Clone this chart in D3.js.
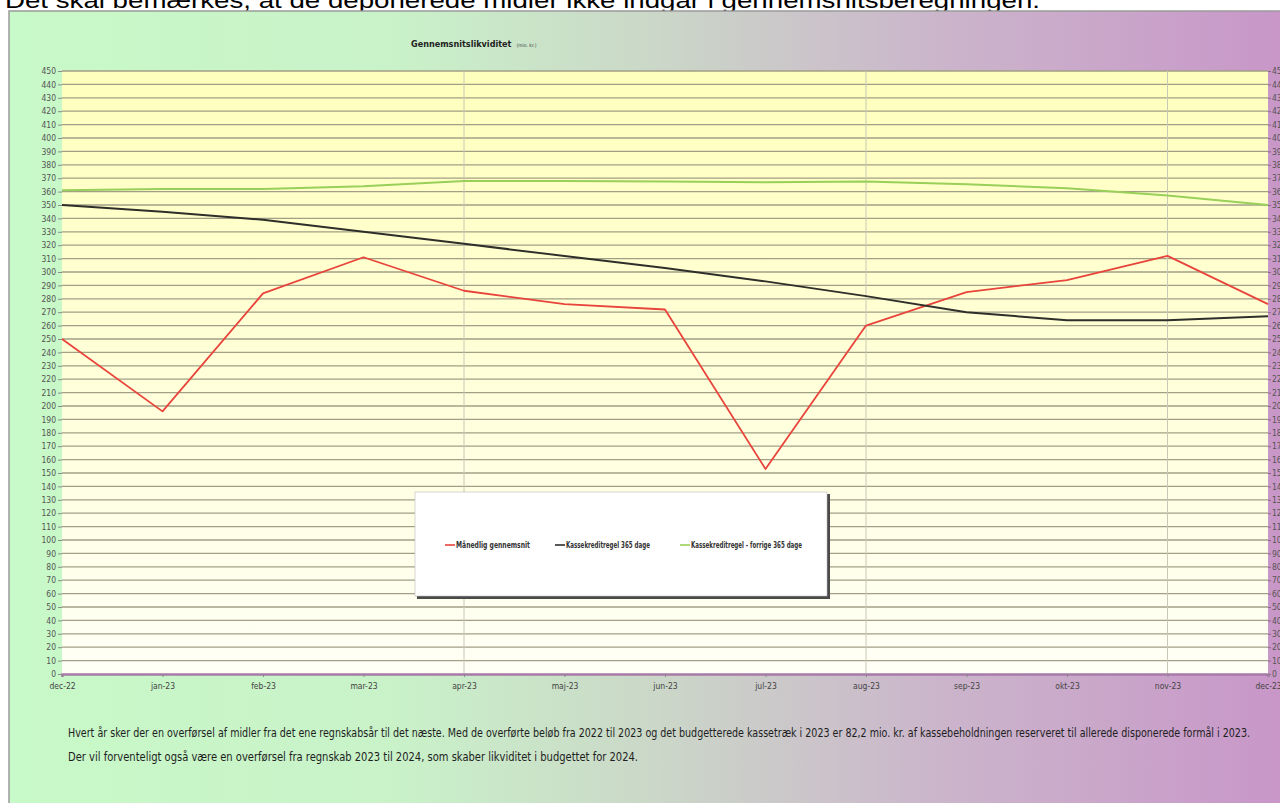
<!DOCTYPE html>
<html>
<head>
<meta charset="utf-8">
<script src="https://cdn.jsdelivr.net/npm/d3@7"></script>
<style>
  html, body { margin: 0; padding: 0; background: #fff; overflow: hidden; }
  svg { display: block; }
  text { font-family: "Liberation Sans Narrow", "Arial Narrow", "DejaVu Sans Condensed", sans-serif; }
</style>
</head>
<body>
<script>
const W = 1280, H = 803
const margin = {top: 71, left: 62, bottom: 129, right: 12}

// data (mio. kr.)
const months = ['dec-22','jan-23','feb-23','mar-23','apr-23','maj-23','jun-23','jul-23','aug-23','sep-23','okt-23','nov-23','dec-23']
const maanedlig = [250, 196, 284, 311, 286, 276, 272, 153, 260, 285, 294, 312, 276]
const kasse365 = [350, 345, 339, 330, 321, 312, 303, 293, 282, 270, 264, 264, 267]
const forrige365 = [361, 362, 362, 364, 368, 368, 367.5, 367, 367.5, 365.5, 362.5, 357, 350]
const yTicks = d3.range(0, 451, 10)
const vGridMonths = ['apr-23', 'aug-23', 'nov-23']

const seriesNames = ['Månedlig gennemsnit', 'Kassekreditregel  365 dage', 'Kassekreditregel - forrige 365 dage']
const seriesColors = ['#e8443c', '#2e2e2a', '#98d05a']

const svg = d3.select('body').append('svg').attr('width', W).attr('height', H)
const defs = svg.append('defs')

const bg = defs.append('linearGradient').attr('id', 'bg').attr('x1', 0).attr('x2', 1).attr('y1', 0).attr('y2', 0)
bg.append('stop').attr('offset', 0).attr('stop-color', '#c8f9c8')
bg.append('stop').attr('offset', 0.3).attr('stop-color', '#c9f2c9')
bg.append('stop').attr('offset', 0.5).attr('stop-color', '#cbd8c8')
bg.append('stop').attr('offset', 0.72).attr('stop-color', '#cbb6cb')
bg.append('stop').attr('offset', 1).attr('stop-color', '#c896c8')

const plotBg = defs.append('linearGradient').attr('id', 'plotbg').attr('x1', 0).attr('x2', 0).attr('y1', 0).attr('y2', 1)
plotBg.append('stop').attr('offset', 0).attr('stop-color', '#ffffbc')
plotBg.append('stop').attr('offset', 1).attr('stop-color', '#fffff6')

// note above the panel (cut off at the top of the picture)
svg.append('text')
   .attr('x', 5).attr('y', 8)
   .attr('textLength', 1035).attr('lengthAdjust', 'spacingAndGlyphs')
   .style('font-family', '"Liberation Sans", Arial, sans-serif')
   .style('font-size', '22px').attr('fill', '#000')
   .text('Det skal bemærkes, at de deponerede midler ikke indgår i gennemsnitsberegningen.')

// panel
svg.append('rect')
   .attr('x', 9).attr('y', 11).attr('width', W).attr('height', H)
   .attr('fill', 'url(#bg)').attr('stroke', '#9a9a9a').attr('stroke-width', 1.5)

const x = d3.scalePoint().domain(months).range([margin.left, W - margin.right])
const y = d3.scaleLinear().domain([0, 450]).range([H - margin.bottom, margin.top])

// plot area
svg.append('rect')
   .attr('x', x.range()[0]).attr('y', y(450))
   .attr('width', x.range()[1] - x.range()[0]).attr('height', y(0) - y(450))
   .attr('fill', 'url(#plotbg)')

// horizontal grid
svg.append('g').selectAll('line').data(yTicks.filter(d => d > 0)).join('line')
   .attr('x1', x.range()[0]).attr('x2', x.range()[1])
   .attr('y1', d => y(d)).attr('y2', d => y(d))
   .attr('stroke', '#a29f86').attr('stroke-width', 1.3)

// vertical grid
svg.append('g').selectAll('line').data(vGridMonths).join('line')
   .attr('x1', d => x(d)).attr('x2', d => x(d))
   .attr('y1', y(450)).attr('y2', y(0))
   .attr('stroke', '#c8c8b6').attr('stroke-width', 1)

// axes
const yAxisL = d3.axisLeft(y).tickValues(yTicks).tickSize(4).tickPadding(2)
const gYL = svg.append('g').attr('transform', `translate(${x.range()[0]},0)`).call(yAxisL)
gYL.select('.domain').remove()
gYL.selectAll('line').attr('stroke', '#8a8a8a')
gYL.selectAll('text').attr('fill', '#555').style('font-size', '8.5px')

const yAxisR = d3.axisRight(y).tickValues(yTicks).tickSize(3).tickPadding(1)
const gYR = svg.append('g').attr('transform', `translate(${x.range()[1]},0)`).call(yAxisR)
gYR.select('.domain').remove()
gYR.selectAll('line').attr('stroke', '#8a6a8a')
gYR.selectAll('text').attr('fill', '#555').style('font-size', '8.5px')

const xAxis = d3.axisBottom(x).tickSize(3).tickPadding(6)
const gX = svg.append('g').attr('transform', `translate(0,${y(0)})`).call(xAxis)
gX.select('.domain').attr('stroke', '#a87aa8').attr('stroke-width', 2.5)
gX.selectAll('line').attr('stroke', '#8a8a8a')
gX.selectAll('text').attr('fill', '#444').style('font-size', '8.5px')

// lines
const line = d3.line().x((d, i) => x(months[i])).y(d => y(d))
;[maanedlig, kasse365, forrige365].forEach((s, k) => {
  svg.append('path').datum(s)
     .attr('d', line)
     .attr('fill', 'none')
     .attr('stroke', seriesColors[k])
     .attr('stroke-width', k == 0 ? 1.8 : 2)
     .attr('stroke-linejoin', 'round')
})

// title
const title = svg.append('text').attr('x', 411).attr('y', 47)
   .style('font-size', '9px').style('font-weight', 'bold').attr('fill', '#222')
   .text('Gennemsnitslikviditet')
const tw = title.node().getComputedTextLength()
svg.append('text').attr('x', 411 + tw + 5).attr('y', 47)
   .style('font-size', '5px').attr('fill', '#444')
   .text('(mio. kr.)')

// legend
const lg = svg.append('g').attr('transform', 'translate(415,492)')
lg.append('rect').attr('x', 2).attr('y', 2).attr('width', 413).attr('height', 105).attr('fill', '#4a4a4a')
lg.append('rect').attr('width', 412).attr('height', 104).attr('fill', '#fff').attr('stroke', '#bbb').attr('stroke-width', 0.6)
const legendX = [30, 140, 265]
const legendW = [74, 84, 111]
seriesNames.forEach((n, k) => {
  lg.append('line').attr('x1', legendX[k]).attr('x2', legendX[k] + 10)
    .attr('y1', 53).attr('y2', 53)
    .attr('stroke', seriesColors[k]).attr('stroke-width', 1.6)
  lg.append('text').attr('x', legendX[k] + 11).attr('y', 56)
    .style('font-size', '9px').style('font-weight', 'bold').attr('fill', '#333')
    .attr('textLength', legendW[k]).attr('lengthAdjust', 'spacingAndGlyphs')
    .text(n)
})

// comment below the chart
svg.append('text').attr('x', 68).attr('y', 737)
   .style('font-size', '12.5px').attr('fill', '#1e1e1e')
   .attr('textLength', 1182).attr('lengthAdjust', 'spacingAndGlyphs')
   .text('Hvert år sker der en overførsel af midler fra det ene regnskabsår til det næste. Med de overførte beløb fra 2022 til 2023 og det budgetterede kassetræk i 2023 er 82,2 mio. kr. af kassebeholdningen reserveret til allerede disponerede formål i 2023.')
svg.append('text').attr('x', 68).attr('y', 761)
   .style('font-size', '12.5px').attr('fill', '#1e1e1e')
   .attr('textLength', 570).attr('lengthAdjust', 'spacingAndGlyphs')
   .text('Der vil forventeligt også være en overførsel fra regnskab 2023 til 2024, som skaber likviditet i budgettet for 2024.')
</script>
</body>
</html>
